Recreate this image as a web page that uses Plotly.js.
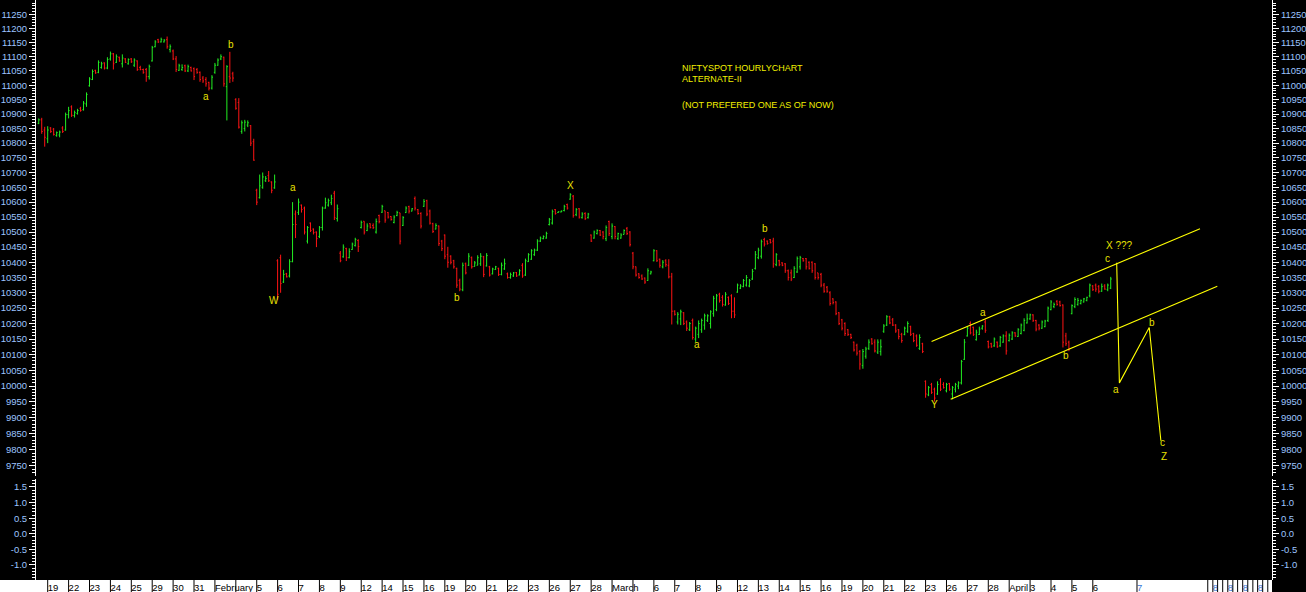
<!DOCTYPE html>
<html><head><meta charset="utf-8">
<script src="https://cdn.plot.ly/plotly-3.0.1.min.js"></script>
<style>html,body{margin:0;padding:0;background:#000;}#chart{width:1306px;height:592px;}</style>
</head><body><div id="chart"></div>
<script>
// Hourly OHLC, one row per trading day (Jan 18 partial .. Apr 6)
const open = [
10868,10880,10845,
10815,10852,10848,10826,10828,10852,10845,
10898,10925,10895,10902,10920,10915,10935,
10998,11020,11052,11045,11062,11078,11060,
11092,11110,11080,11098,11075,11092,11075,
11092,11070,11085,11062,11055,11055,11030,
11085,11135,11160,11152,11152,11160,11125,
11120,11092,11052,11055,11068,11050,11062,
11058,11055,11045,11025,11020,11010,10990,
11045,11070,11092,11098,10995,11030,11040,
10950,10940,10840,10850,10862,10860,10805,
10640,10615,10650,10672,10690,10668,10648,
10405,10415,10335,10362,10355,10402,10560,
10565,10590,10580,10470,10530,10510,10500,
10485,10515,10580,10590,10598,10630,10545,
10430,10418,10445,10415,10442,10455,10472,
10515,10536,10505,10528,10522,10500,10555,
10566,10571,10565,10552,10532,10555,10564,
10522,10565,10585,10570,10612,10575,10562,
10586,10605,10570,10528,10510,10520,10470,
10490,10425,10420,10405,10380,10340,10310,
10395,10390,10415,10386,10390,10395,10418,
10388,10385,10362,10376,10380,10360,10378,
10362,10350,10355,10366,10358,10390,10358,
10402,10410,10425,10440,10470,10478,10480,
10525,10530,10575,10565,10567,10572,10592,
10610,10620,10558,10578,10548,10562,10548,
10490,10480,10495,10505,10500,10478,10535,
10485,10518,10478,10480,10492,10512,10500,
10430,10385,10362,10355,10348,10340,10362,
10405,10438,10410,10385,10405,10390,10352,
10240,10205,10215,10235,10205,10180,10210,
10150,10165,10180,10195,10210,10200,10232,
10245,10295,10285,10260,10285,10290,10240,
10302,10315,10320,10325,10322,10345,10380,
10415,10420,10475,10470,10475,10470,10392,
10405,10398,10395,10372,10365,10350,10368,
10385,10412,10412,10400,10400,10395,10365,
10360,10325,10318,10300,10280,10270,10235,
10212,10200,10180,10165,10140,10130,10110,
10065,10095,10120,10150,10140,10108,10110,
10175,10195,10222,10212,10195,10180,10165,
10165,10175,10190,10168,10160,10120,10135,
10015,9972,10005,9990,9975,10020,10005,
9985,10008,9975,9990,10000,10010,10085,
10160,10200,10188,10148,10165,10185,10205,
10142,10135,10128,10140,10128,10140,10160,
10145,10150,10170,10158,10168,10178,10202,
10215,10228,10210,10195,10185,10190,10210,
10245,10255,10272,10270,10260,10160,10140,
10232,10255,10262,10265,10270,10275,10290,
10322,10325,10320,10305,10322,10310,10315
];
const high = [
10885,10887,10856,
10858,10855,10852,10840,10843,10858,10905,
10925,10930,10912,10918,10925,10945,10975,
11028,11055,11054,11087,11082,11080,11098,
11118,11113,11108,11100,11108,11095,11094,
11095,11094,11087,11068,11058,11060,11072,
11138,11158,11163,11167,11162,11171,11143,
11125,11102,11075,11073,11072,11072,11065,
11062,11060,11048,11032,11028,11012,11035,
11078,11094,11108,11100,11070,11117,11047,
10955,10955,10878,10880,10878,10862,10815,
10645,10693,10700,10688,10705,10670,10693,
10410,10425,10375,10365,10410,10600,10572,
10612,10592,10585,10520,10532,10512,10502,
10520,10585,10615,10612,10625,10638,10592,
10437,10459,10448,10446,10465,10481,10476,
10538,10536,10529,10529,10529,10545,10558,
10591,10571,10567,10553,10556,10571,10564,
10553,10586,10588,10580,10619,10577,10566,
10610,10608,10575,10531,10529,10522,10474,
10492,10451,10423,10408,10382,10346,10399,
10399,10430,10419,10404,10423,10430,10421,
10430,10388,10382,10388,10382,10399,10412,
10366,10366,10368,10368,10377,10397,10412,
10430,10443,10445,10476,10485,10489,10501,
10547,10575,10577,10569,10572,10591,10595,
10630,10624,10580,10580,10566,10566,10564,
10492,10505,10509,10507,10503,10522,10538,
10529,10520,10498,10496,10509,10517,10503,
10434,10386,10364,10360,10350,10380,10372,
10443,10440,10412,10407,10410,10410,10365,
10243,10237,10245,10237,10210,10205,10216,
10190,10210,10216,10232,10230,10243,10290,
10296,10300,10292,10302,10288,10295,10285,
10330,10328,10345,10358,10345,10378,10437,
10448,10475,10481,10472,10477,10481,10430,
10408,10400,10397,10376,10376,10387,10419,
10421,10414,10414,10403,10403,10397,10365,
10365,10332,10322,10305,10282,10272,10237,
10215,10204,10182,10167,10142,10135,10115,
10118,10125,10149,10153,10149,10149,10149,
10198,10227,10225,10218,10198,10182,10170,
10190,10207,10193,10170,10165,10165,10138,
10018,10000,10010,9995,10015,10025,10012,
10010,10010,10000,10010,10015,10083,10150,
10190,10207,10190,10180,10190,10195,10213,
10145,10138,10155,10142,10160,10165,10175,
10168,10175,10172,10185,10200,10217,10232,
10232,10230,10212,10198,10210,10212,10255,
10276,10268,10276,10274,10262,10170,10145,
10262,10285,10283,10278,10283,10287,10330,
10325,10330,10325,10330,10328,10330,10352
];
const low = [
10865,10832,10788,
10800,10835,10826,10822,10820,10835,10843,
10885,10890,10888,10898,10908,10912,10925,
10995,11018,11040,11042,11058,11055,11056,
11086,11055,11078,11082,11062,11078,11072,
11078,11064,11050,11052,11040,11012,11020,
11083,11133,11148,11150,11150,11128,11115,
11088,11046,11050,11050,11046,11046,11048,
11018,11040,11012,11008,10995,10982,10985,
11040,11068,11088,10995,10878,11008,11012,
10915,10850,10832,10840,10855,10790,10740,
10590,10612,10645,10668,10668,10630,10645,
10276,10300,10332,10350,10350,10400,10480,
10557,10565,10492,10462,10500,10492,10450,
10480,10505,10578,10585,10590,10540,10535,
10400,10415,10404,10413,10441,10452,10434,
10512,10492,10503,10512,10510,10495,10529,
10564,10531,10545,10538,10529,10553,10459,
10520,10564,10562,10569,10572,10558,10512,
10584,10553,10525,10497,10509,10454,10437,
10410,10382,10393,10379,10316,10305,10305,
10360,10388,10379,10386,10390,10388,10351,
10386,10353,10360,10375,10355,10357,10375,
10346,10346,10352,10352,10357,10349,10355,
10401,10408,10421,10437,10467,10476,10478,
10522,10525,10558,10564,10566,10569,10575,
10608,10548,10553,10545,10545,10540,10545,
10467,10478,10492,10487,10476,10470,10487,
10476,10476,10474,10478,10492,10490,10452,
10377,10353,10346,10342,10329,10339,10360,
10403,10401,10382,10380,10385,10347,10197,
10226,10197,10195,10195,10176,10176,10148,
10141,10153,10170,10180,10205,10184,10222,
10240,10268,10255,10258,10260,10217,10218,
10300,10312,10318,10320,10318,10342,10376,
10410,10412,10452,10458,10462,10382,10387,
10387,10387,10365,10340,10338,10348,10365,
10376,10402,10376,10376,10365,10343,10343,
10318,10300,10300,10258,10262,10227,10195,
10178,10160,10160,10150,10110,10097,10052,
10055,10087,10115,10132,10107,10102,10097,
10170,10192,10198,10192,10170,10149,10138,
10162,10170,10160,10140,10125,10115,10105,
9963,9968,9975,9951,9972,9984,9992,
9980,9985,9958,9980,9990,10005,10083,
10158,10165,10160,10145,10163,10180,10170,
10120,10122,10125,10122,10125,10138,10100,
10142,10147,10157,10157,10165,10175,10200,
10212,10205,10175,10178,10183,10188,10205,
10243,10250,10258,10255,10123,10128,10111,
10230,10250,10258,10262,10268,10272,10285,
10306,10303,10298,10303,10310,10305,10312
];
const close = [
10880,10840,10820,
10845,10840,10830,10836,10838,10840,10898,
10912,10896,10905,10912,10912,10938,10968,
11022,11048,11043,11080,11075,11060,11090,
11110,11075,11100,11085,11095,11080,11090,
11082,11088,11055,11055,11045,11030,11065,
11132,11152,11152,11160,11158,11135,11135,
11092,11055,11068,11062,11050,11065,11050,
11030,11045,11020,11015,11005,10990,11028,
11070,11088,11100,11005,11065,11025,11025,
10920,10855,10870,10872,10870,10800,10742,
10600,10655,10685,10680,10672,10640,10668,
10295,10330,10360,10352,10402,10525,10525,
10600,10575,10500,10515,10505,10498,10478,
10515,10580,10598,10605,10612,10548,10578,
10405,10450,10415,10435,10460,10475,10452,
10532,10500,10520,10515,10515,10535,10535,
10585,10540,10550,10542,10550,10565,10470,
10548,10580,10570,10578,10580,10562,10520,
10602,10560,10530,10502,10522,10462,10445,
10420,10400,10400,10385,10325,10312,10390,
10365,10420,10385,10398,10415,10420,10360,
10422,10358,10378,10385,10360,10390,10395,
10350,10360,10365,10355,10372,10355,10405,
10425,10438,10440,10470,10480,10485,10495,
10542,10568,10562,10568,10570,10585,10580,
10625,10555,10575,10550,10560,10545,10560,
10470,10500,10505,10490,10485,10515,10495,
10520,10485,10495,10490,10505,10495,10458,
10385,10358,10350,10345,10335,10372,10368,
10438,10405,10390,10400,10392,10352,10240,
10230,10230,10238,10200,10185,10200,10155,
10185,10200,10210,10225,10225,10238,10282,
10290,10275,10262,10295,10265,10240,10228,
10325,10322,10340,10350,10340,10370,10425,
10440,10468,10460,10462,10465,10395,10425,
10392,10390,10372,10350,10345,10380,10412,
10415,10405,10385,10380,10372,10350,10350,
10325,10305,10305,10265,10268,10232,10200,
10185,10168,10165,10155,10115,10105,10070,
10110,10118,10140,10135,10112,10140,10125,
10192,10222,10202,10195,10176,10158,10145,
10185,10200,10165,10145,10130,10155,10110,
9975,9995,9980,9962,10005,9990,9995,
10005,9990,9995,10005,10010,10078,10140,
10185,10170,10165,10172,10182,10192,10178,
10125,10125,10150,10125,10155,10160,10112,
10162,10170,10160,10180,10195,10210,10215,
10228,10210,10182,10185,10205,10208,10250,
10270,10262,10262,10258,10140,10135,10118,
10258,10278,10275,10275,10280,10285,10325,
10310,10312,10305,10320,10312,10325,10345
];
const firstBarSlot = -3;           // Jan 18 partial day starts before the window
const barsPerDay = 7;

// date labels at the first bar of each day
const dayLabels = ['19','22','23','24','25','29','30','31','February','','5','6','7','8','9','12','14','15','16','19','20','21','22','23','26','27','28','March','','6','7','8','9','12','13','14','15','16','19','20','21','22','23','26','27','28','April','3','4','5','6'];
// future part of the time scale
const futureTickV = [364.8, 388.5, 390.2, 391.8, 393.5, 395.2, 396.9, 398.5, 400.2, 401.9, 403.6, 405.2, 406.9, 408.6];
const futureTickText = ['7','','8','','','8','','','8','','','8','',''];

// Elliott wave labels
const waveText  = ['b','a','W','a','b','X','a','b','Y','a','b','c','X ???','a','b','c','Z'];
const waveV     = [61.4, 52.9, 75.9, 82.3, 137.2, 175.0, 217.3, 240.3, 296.9, 313.3, 340.9, 354.9, 359.1, 357.7, 369.7, 373.4, 373.8];
const wavePrice = [11143, 10962, 10274, 10648, 10286, 10657, 10131, 10511, 9943, 10235, 10097, 10414, 10454, 9990, 10203, 9823, 9780];

// channel and projection lines
const upperV = [296.0, 385.9], upperP = [10142, 10511];
const lowerV = [302.4, 391.7], lowerP = [9958, 10321];
const projV = [358.0, 358.9, 368.9, 372.8], projP = [10398, 10010, 10187, 9828];

const priceTicks = [9750,9800,9850,9900,9950,10000,10050,10100,10150,10200,10250,10300,10350,10400,10450,10500,10550,10600,10650,10700,10750,10800,10850,10900,10950,11000,11050,11100,11150,11200,11250];
const oscTicks = [-1.0,-0.5,0.0,0.5,1.0,1.5];
const oscTickText = ['-1.0','-0.5','0.0','0.5','1.0','1.5'];

// ---------- build ----------
const barX = open.map((_, i) => firstBarSlot + i);
const dayTickV = dayLabels.map((_, k) => k * barsPerDay);
const tickV = dayTickV.concat(futureTickV);
const tickT = dayLabels.concat(futureTickText.map(t => t ? '<span style="color:#3a78d8">' + t + '</span>' : ''));

const minorPrice = []; for (let p = 9720; p <= 11300; p += 10) if (p % 50) minorPrice.push(p);
const minorOsc = []; for (let i = -15; i <= 18; i++) if (i % 5) minorOsc.push(i / 10);

const W = 1306, H = 592, ML = 36, MR = 34, MT = 0, MB = 12;
const PW = W - ML - MR, PH = H - MT - MB;
const mainBottomPx = 475.5, oscTopPx = 478.5;

const font = 'Liberation Sans, Arial, sans-serif';
const yLabel = {family: font, size: 9.5, color: '#9cc4ff'};

function priceAxis(extra) {
  return Object.assign({
    type: 'log', range: [3.98769, 4.05312], domain: [(PH - mainBottomPx) / PH, 1],
    showline: true, linecolor: '#ffffff', linewidth: 1, mirror: false,
    ticks: 'outside', ticklen: 6, tickcolor: '#ffffff', tickwidth: 1,
    tickmode: 'array', tickvals: priceTicks, ticktext: priceTicks.map(String),
    tickfont: yLabel, showgrid: false, zeroline: false, fixedrange: true,
    minor: {tickmode: 'array', tickvals: minorPrice, ticks: 'outside', ticklen: 3, tickcolor: '#ffffff', tickwidth: 1, showgrid: false},
    automargin: false
  }, extra);
}
function oscAxis(extra) {
  return Object.assign({
    range: [-1.481, 1.772], domain: [0, (PH - oscTopPx) / PH],
    showline: true, linecolor: '#ffffff', linewidth: 1,
    ticks: 'outside', ticklen: 6, tickcolor: '#ffffff', tickwidth: 1,
    tickmode: 'array', tickvals: oscTicks, ticktext: oscTickText,
    tickfont: yLabel, showgrid: false, zeroline: false, fixedrange: true,
    minor: {tickmode: 'array', tickvals: minorOsc, ticks: 'outside', ticklen: 3, tickcolor: '#ffffff', tickwidth: 1, showgrid: false},
    automargin: false
  }, extra);
}

const traces = [
  {type: 'ohlc', x: barX, open: open, high: high, low: low, close: close,
   xaxis: 'x', yaxis: 'y', tickwidth: 0.35, hoverinfo: 'skip',
   increasing: {line: {color: '#22ee22', width: 1}},
   decreasing: {line: {color: '#ff1414', width: 1}}},
  {type: 'scatter', mode: 'lines', x: upperV, y: upperP, xaxis: 'x', yaxis: 'y', line: {color: '#ffff00', width: 1.1}, hoverinfo: 'skip'},
  {type: 'scatter', mode: 'lines', x: lowerV, y: lowerP, xaxis: 'x', yaxis: 'y', line: {color: '#ffff00', width: 1.1}, hoverinfo: 'skip'},
  {type: 'scatter', mode: 'lines', x: projV, y: projP, xaxis: 'x', yaxis: 'y', line: {color: '#ffff00', width: 1.1}, hoverinfo: 'skip'},
  {type: 'scatter', mode: 'markers', x: [0], y: [10000], xaxis: 'x', yaxis: 'y3', marker: {opacity: 0}, hoverinfo: 'skip'},
  {type: 'scatter', mode: 'markers', x: [0], y: [0], xaxis: 'x', yaxis: 'y2', marker: {opacity: 0}, hoverinfo: 'skip'},
  {type: 'scatter', mode: 'markers', x: [0], y: [0], xaxis: 'x', yaxis: 'y4', marker: {opacity: 0}, hoverinfo: 'skip'}
];

const shapes = [{type: 'rect', xref: 'paper', yref: 'paper', x0: -ML / PW, x1: 1, y0: -MB / PH, y1: 0,
                 fillcolor: '#ffffff', line: {width: 0}, layer: 'below'}];
tickV.forEach(v => shapes.push({type: 'line', xref: 'x', yref: 'paper', x0: v, x1: v, y0: -MB / PH, y1: 0,
                                line: {color: '#000000', width: 1}}));

const waveFont = {family: font, size: 10, color: '#e8e000'};
const annotations = waveText.map((t, i) => ({
  x: waveV[i], y: Math.log10(wavePrice[i]), xref: 'x', yref: 'y', text: t, showarrow: false,
  xanchor: 'center', yanchor: 'middle', font: waveFont
}));
const titleFont = {family: font, size: 9, color: '#f0f000'};
const tx = (679.5 - ML) / PW;
annotations.push({xref: 'paper', yref: 'paper', x: tx, y: 1 - 67.5 / PH, xanchor: 'left', yanchor: 'middle', showarrow: false, text: 'NIFTYSPOT HOURLYCHART', font: titleFont});
annotations.push({xref: 'paper', yref: 'paper', x: tx, y: 1 - 79 / PH, xanchor: 'left', yanchor: 'middle', showarrow: false, text: 'ALTERNATE-II', font: titleFont});
annotations.push({xref: 'paper', yref: 'paper', x: tx, y: 1 - 105 / PH, xanchor: 'left', yanchor: 'middle', showarrow: false, text: '(NOT PREFERED ONE AS OF NOW)', font: titleFont});

const layout = {
  width: W, height: H, margin: {l: ML, r: MR, t: MT, b: MB, pad: 0},
  paper_bgcolor: '#000000', plot_bgcolor: '#000000', showlegend: false,
  xaxis: {range: [(36 - 47.7) / 2.986, (1272 - 47.7) / 2.986], anchor: 'y2', domain: [0, 1],
          showgrid: false, zeroline: false, showline: false, fixedrange: true,
          rangeslider: {visible: false},
          tickmode: 'array', tickvals: tickV, ticktext: tickT, ticks: '', tickangle: 0,
          ticklabelposition: 'outside right',
          tickfont: {family: font, size: 9.5, color: '#000000'}, automargin: false},
  yaxis: priceAxis({side: 'left', anchor: 'x'}),
  yaxis3: priceAxis({side: 'right', anchor: 'x', overlaying: 'y'}),
  yaxis2: oscAxis({side: 'left', anchor: 'x'}),
  yaxis4: oscAxis({side: 'right', anchor: 'x', overlaying: 'y2'}),
  shapes: shapes, annotations: annotations
};
Plotly.newPlot('chart', traces, layout, {displayModeBar: false, staticPlot: true});
</script></body></html>
